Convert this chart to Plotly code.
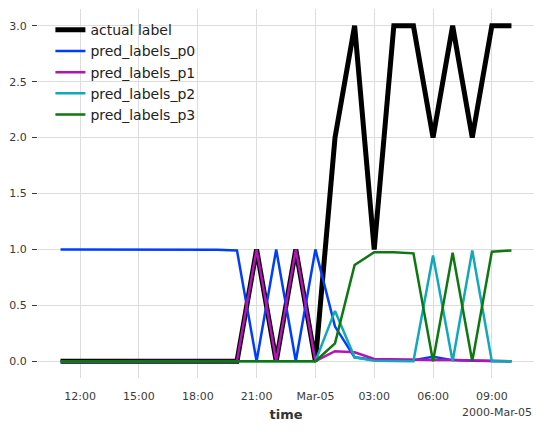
import plotly.graph_objects as go

times = ["2000-03-04 11:00", "2000-03-04 12:00", "2000-03-04 13:00", "2000-03-04 14:00",
         "2000-03-04 15:00", "2000-03-04 16:00", "2000-03-04 17:00", "2000-03-04 18:00",
         "2000-03-04 19:00", "2000-03-04 20:00", "2000-03-04 21:00", "2000-03-04 22:00",
         "2000-03-04 23:00", "2000-03-05 00:00", "2000-03-05 01:00", "2000-03-05 02:00",
         "2000-03-05 03:00", "2000-03-05 04:00", "2000-03-05 05:00", "2000-03-05 06:00",
         "2000-03-05 07:00", "2000-03-05 08:00", "2000-03-05 09:00", "2000-03-05 10:00"]

actual = [0, 0, 0, 0, 0, 0, 0, 0, 0, 0, 1, 0, 1, 0, 2, 3, 1, 3, 3, 2, 3, 2, 3, 3]
p0 = [1.0, 1.0, 1.0, 1.0, 1.0, 1.0, 1.0, 1.0, 0.998, 0.99, 0.0, 1.0, 0.0, 1.0,
      0.31, 0.035, 0.01, 0.01, 0.01, 0.04, 0.01, 0.005, 0.0, 0.0]
p1 = [0.0, 0.0, 0.0, 0.0, 0.0, 0.0, 0.0, 0.0, 0.0, 0.005, 1.0, 0.0, 1.0, 0.0,
      0.09, 0.08, 0.02, 0.015, 0.015, 0.01, 0.01, 0.005, 0.0, 0.0]
p2 = [0.0, 0.0, 0.0, 0.0, 0.0, 0.0, 0.0, 0.0, 0.0, 0.0, 0.0, 0.0, 0.0, 0.0,
      0.45, 0.035, 0.005, 0.0, 0.0, 0.945, 0.0, 0.99, 0.0, 0.0]
p3 = [0.0, 0.0, 0.0, 0.0, 0.0, 0.0, 0.0, 0.0, 0.0, 0.0, 0.0, 0.0, 0.0, 0.0,
      0.16, 0.86, 0.975, 0.975, 0.965, 0.0, 0.97, 0.0, 0.98, 0.99]

tick_vals = ["2000-03-04 12:00", "2000-03-04 15:00", "2000-03-04 18:00", "2000-03-04 21:00",
             "2000-03-05 00:00", "2000-03-05 03:00", "2000-03-05 06:00", "2000-03-05 09:00"]
tick_text = ["12:00", "15:00", "18:00", "21:00", "Mar-05", "03:00", "06:00", "09:00"]

series = [
    ("actual label", actual, "#000000", 5),
    ("pred_labels_p0", p0, "#003DFD", 2.5),
    ("pred_labels_p1", p1, "#b512b8", 2.5),
    ("pred_labels_p2", p2, "#11a9ba", 2.5),
    ("pred_labels_p3", p3, "#0d780f", 2.5),
]

fig = go.Figure()
for name, vals, color, w in series:
    fig.add_trace(go.Scatter(x=times, y=vals, mode='lines', name=name,
                             line=dict(color=color, width=w)))

# page has an 8px body margin, so margins are shifted to land where the reference has them
fig.update_layout(
    width=544, height=431,
    margin=dict(l=30, r=18, t=1, b=61),
    plot_bgcolor='white', paper_bgcolor='white',
    font=dict(family="DejaVu Sans", size=11, color="#3a3a3a"),
    showlegend=True,
    legend=dict(x=0.025, y=0.986, xanchor='left', yanchor='top',
                bgcolor='rgba(0,0,0,0)', font=dict(size=14, color="#222222"),
                tracegroupgap=0),
    annotations=[dict(text="2000-Mar-05", xref='paper', yref='paper', x=1, y=-0.07,
                      xanchor='right', yanchor='top', showarrow=False,
                      font=dict(size=11, color="#3a3a3a"))],
)
fig.update_xaxes(
    type='date', range=["2000-03-04 09:51", "2000-03-05 11:09"],
    tickvals=tick_vals, ticktext=tick_text, automargin=False,
    showgrid=True, gridcolor="#dddddd", gridwidth=1, zeroline=False, showline=False,
    ticks='', ticklabelstandoff=10,
    title=dict(text="<b>time</b>", font=dict(size=13, color="#333333"), standoff=7),
)
fig.update_yaxes(
    range=[-0.15, 3.15], tickvals=[0, 0.5, 1, 1.5, 2, 2.5, 3], automargin=False,
    ticktext=["0.0", "0.5", "1.0", "1.5", "2.0", "2.5", "3.0"],
    showgrid=True, gridcolor="#dddddd", gridwidth=1, zeroline=False, showline=False,
    ticks='outside', ticklen=5, tickcolor="#3a3a3a", tickwidth=1, ticklabelstandoff=3,
)

fig.write_html("out.html")
